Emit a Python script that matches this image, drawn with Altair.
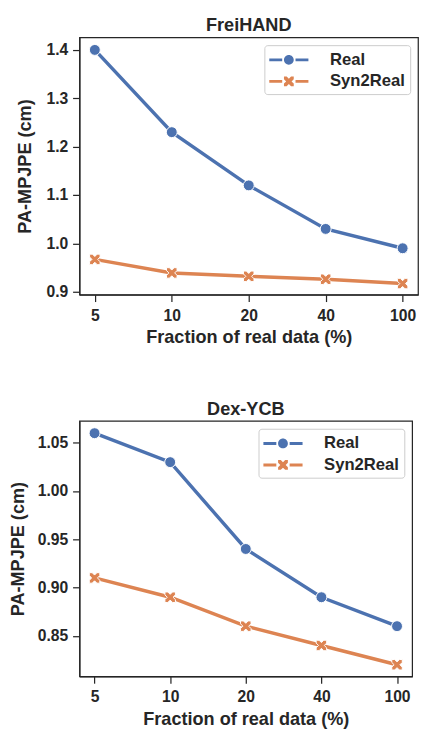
import altair as alt
import pandas as pd

# ---- data ----
fractions = ["5", "10", "20", "40", "100"]
series = ["Real", "Syn2Real"]
frei_real = [1.40, 1.23, 1.12, 1.03, 0.99]
frei_syn = [0.967, 0.939, 0.932, 0.926, 0.917]
dex_real = [1.06, 1.03, 0.94, 0.89, 0.86]
dex_syn = [0.91, 0.89, 0.86, 0.84, 0.82]
frei_ticks = [0.9, 1.0, 1.1, 1.2, 1.3, 1.4]
dex_ticks = [0.85, 0.90, 0.95, 1.00, 1.05]

FONT = "Liberation Sans"
TXT = "#262626"
COLORS = ["#4c72b0", "#dd8452"]


def make_df(real, syn):
    rows = []
    for f, v in zip(fractions, real):
        rows.append({"fraction": f, "value": v, "series": "Real"})
    for f, v in zip(fractions, syn):
        rows.append({"fraction": f, "value": v, "series": "Syn2Real"})
    return pd.DataFrame(rows)


def x_path(k, t):
    pts = [(1 - t, 1), (1, 1), (1, 1 - t), (t, 0), (1, -1 + t), (1, -1), (1 - t, -1),
           (0, -t), (-1 + t, -1), (-1, -1), (-1, -1 + t), (-t, 0), (-1, 1 - t),
           (-1, 1), (-1 + t, 1), (0, t)]
    return "M" + " L".join(f"{x * k:.3f},{y * k:.3f}" for x, y in pts) + " Z"


seg = ("M-2,-0.15 L-0.68,-0.15 L-0.68,0.15 L-2,0.15 Z "
       "M0.68,-0.15 L2,-0.15 L2,0.15 L0.68,0.15 Z ")
leg_real = seg + "M-0.5,0 A0.5,0.5 0 1,0 0.5,0 A0.5,0.5 0 1,0 -0.5,0 Z"
leg_syn = seg + x_path(0.5, 0.55)
plot_x = x_path(1.0, 0.55)


def col(legend=None):
    if legend is None:
        return alt.Color("series:N", scale=alt.Scale(domain=series, range=COLORS),
                         legend=None)
    return alt.Color("series:N", scale=alt.Scale(domain=series, range=COLORS),
                     legend=legend)


def panel(df, title, domain, ticks, fmt, width, height, ytp):
    x = alt.X("fraction:O", sort=fractions,
              scale=alt.Scale(type="point", padding=0.2),
              axis=alt.Axis(labelAngle=0, title="Fraction of real data (%)"))
    y = alt.Y("value:Q", scale=alt.Scale(domain=domain, nice=False, zero=False),
              axis=alt.Axis(values=ticks, format=fmt, title="PA-MPJPE (cm)",
                            titlePadding=ytp))
    base = alt.Chart(df)
    line = base.mark_line(strokeWidth=3.5).encode(x=x, y=y, color=col())
    p_real = base.transform_filter(alt.datum.series == "Real").mark_point(
        filled=True, size=125, shape="circle", stroke="white", strokeWidth=1,
        opacity=1).encode(x=x, y=y, color=col())
    p_syn = base.transform_filter(alt.datum.series == "Syn2Real").mark_point(
        filled=True, size=115, shape=plot_x, stroke="white", strokeWidth=1,
        opacity=1).encode(x=x, y=y, color=col())
    leg = alt.Legend(title=None, orient="top-right", offset=8, symbolSize=400,
                     symbolOffset=10, labelOffset=32, padding=5, rowPadding=4,
                     fillColor="white", strokeColor="#cccccc", cornerRadius=3,
                     labelFont=FONT, labelFontSize=17, labelFontWeight="bold",
                     labelColor=TXT, symbolStrokeWidth=0, symbolOpacity=1)
    legend_layer = base.mark_point(filled=True, opacity=0, size=400, clip=True).encode(
        x=x, y=y,
        color=col(leg),
        shape=alt.Shape("series:N",
                        scale=alt.Scale(domain=series, range=[leg_real, leg_syn]),
                        legend=leg),
    )
    return alt.layer(line, p_real, p_syn, legend_layer).resolve_scale(
        color="independent", shape="independent"
    ).properties(
        width=width, height=height,
        title=alt.TitleParams(title, font=FONT, fontSize=18.5, fontWeight="bold",
                              color=TXT, offset=3, anchor="middle"),
    )


top = panel(make_df(frei_real, frei_syn), "FreiHAND", [0.894, 1.426], frei_ticks,
            ".1f", 346, 263, 12)
bottom = panel(make_df(dex_real, dex_syn), "Dex-YCB", [0.808, 1.0727], dex_ticks,
               ".2f", 340, 261, 10)

chart = alt.concat(top, bottom, columns=1, spacing=52, align="none").properties(
    padding={"left": 0, "top": -1, "right": 0, "bottom": 0},
    background="white",
).configure_axis(
    labelFont=FONT, labelFontSize=16, labelFontWeight="bold", labelColor=TXT,
    titleFont=FONT, titleFontSize=18.5, titleFontWeight="bold", titleColor=TXT,
    tickColor=TXT, tickSize=7, tickWidth=1.25, domainColor=TXT, domainWidth=1.25,
    grid=False, labelPadding=5,
).configure_axisX(
    labelPadding=6, titlePadding=5,
).configure_view(
    stroke=TXT, strokeWidth=1.25,
)

chart.save("out.html", embed_options={"renderer": "svg", "actions": False})
